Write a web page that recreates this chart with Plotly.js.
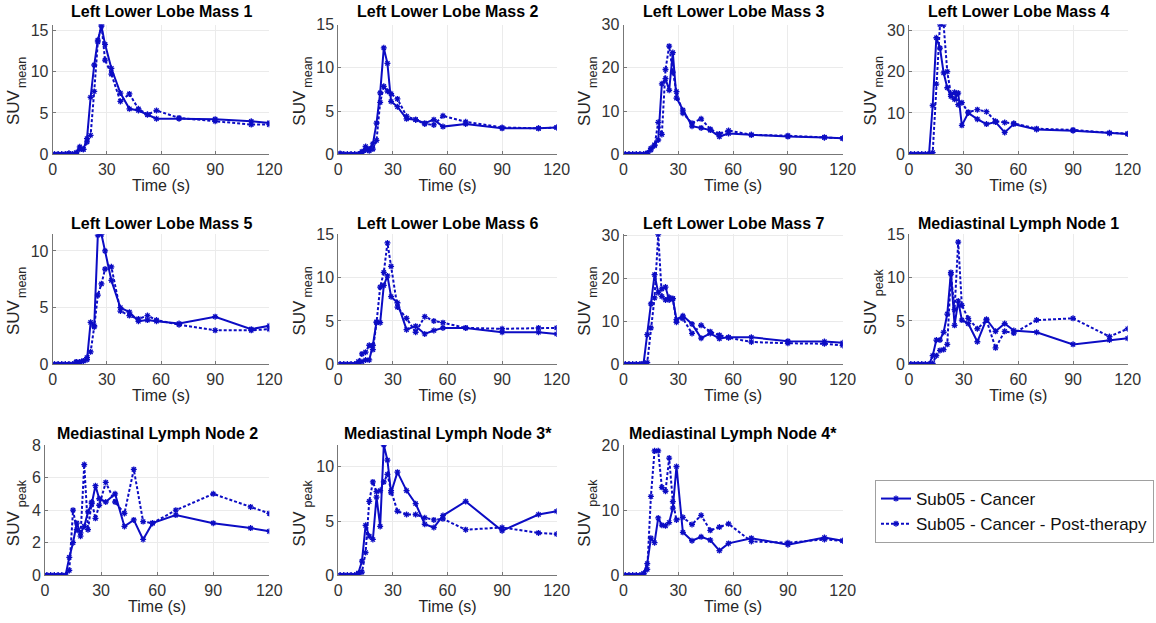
<!DOCTYPE html>
<html>
<head>
<meta charset="utf-8">
<script src="https://cdn.plot.ly/plotly-3.0.1.min.js"></script>
<style>html,body{margin:0;padding:0;background:#fff;}#chart{width:1156px;height:623px;}</style>
</head>
<body>
<div id="chart"></div>
<script>
// ---- data ----
const time = [1,3,5,7,9,11,13,15,17,19,21,23,25,27,29,32.5,37.5,42.5,47.5,52.5,57.5,70,90,110,120];

const panelTitles = ['Left Lower Lobe Mass 1','Left Lower Lobe Mass 2','Left Lower Lobe Mass 3','Left Lower Lobe Mass 4',
  'Left Lower Lobe Mass 5','Left Lower Lobe Mass 6','Left Lower Lobe Mass 7','Mediastinal Lymph Node 1',
  'Mediastinal Lymph Node 2','Mediastinal Lymph Node 3*','Mediastinal Lymph Node 4*'];
const yLabelMain = 'SUV';
const yLabelSubs = ['mean','mean','mean','mean','mean','mean','mean','peak','peak','peak','peak'];
const xLabel = 'Time (s)';
const seriesNames = ['Sub05 - Cancer','Sub05 - Cancer - Post-therapy'];
const xTicks = [0,30,60,90,120];

const mass1Cancer = [0,0,0,0,0.1,0,0.2,0.9,0.6,1.9,6.9,10.8,13.8,15.5,13.3,10.4,7.4,5.5,5.3,4.8,4.3,4.3,4.25,4.0,3.8];
const mass1Post   = [0,0,0,0,0.1,0,0.1,0.6,0.6,1.5,2.3,7.6,13.6,15.7,11.4,9.7,6.4,7.3,5.5,4.8,5.3,4.4,4.0,3.6,3.6];
const mass2Cancer = [0.1,0,0,0,0,0,0.3,0.9,0.6,1.2,3.6,7.1,12.3,10.5,6.1,5.5,4.1,4.0,3.6,4.0,3.2,3.5,3.0,3.0,3.1];
const mass2Post   = [0,0,0,0,0,0,0.2,0.5,0.4,0.6,1.6,6.0,7.85,7.3,7.0,6.4,4.4,4.0,3.5,3.4,4.45,3.75,3.1,3.0,3.1];
const mass3Cancer = [0,0,0,0,0,0,0.3,1.4,2.2,3.3,16.3,17.5,14.8,23.5,13.0,10.2,6.5,6.1,5.6,4.1,4.8,4.5,4.1,3.9,3.7];
const mass3Post   = [0,0,0,0,0,0,0.2,1.0,2.0,7.4,4.6,19.6,25.0,19.0,14.5,9.5,7.2,8.2,5.8,4.7,5.5,4.5,4.3,3.9,3.7];
const mass4Cancer = [0,0,0,0,0,0.1,11.8,28.2,25.7,19.7,16.1,14.0,13.3,14.8,7.0,10.0,8.5,7.3,7.8,5.3,7.3,6.0,5.7,5.1,4.9];
const mass4Post   = [0,0,0,0,0,0,0.4,17.0,31.4,31.4,20.0,14.5,15.0,12.0,12.5,10.2,10.8,10.3,8.0,7.7,7.5,6.2,5.9,5.2,5.0];
const mass5Cancer = [0,0,0,0,0,0,0.2,0.2,0.3,0.4,3.7,3.4,11.4,11.47,10.0,7.4,5.0,4.6,3.8,3.9,3.8,3.6,4.2,3.1,3.4];
const mass5Post   = [0,0,0,0,0,0,0.2,0.2,0.3,0.6,1.1,3.3,6.1,7.1,8.4,8.6,4.7,4.3,4.0,4.3,3.9,3.5,3.0,3.0,3.1];
const mass6Cancer = [0,0,0,0,0,0.1,0.3,0.5,0.5,2.2,4.9,4.8,9.1,10.2,7.8,7.1,4.0,4.4,3.5,3.9,4.2,4.2,3.7,3.7,3.5];
const mass6Post   = [0,0,0,0,0,0.3,1.2,1.4,2.2,1.7,4.8,8.9,10.6,14.0,11.3,6.6,5.3,3.7,5.5,5.0,4.8,4.2,4.1,4.2,4.2];
const mass7Cancer = [0,0,0,0,0,0.2,6.9,14.1,20.9,16.7,17.6,18.0,15.0,15.3,10.4,11.3,9.4,6.1,7.2,6.0,6.3,6.3,5.4,5.3,5.0];
const mass7Post   = [0,0,0,0,0,0.1,0.4,8.5,15.5,30.3,15.8,15.0,15.6,15.3,9.8,10.7,7.2,9.1,7.6,6.8,6.2,5.2,4.9,4.8,4.4];
const node1Cancer = [0,0,0,0,0,0,1.0,2.8,2.8,3.7,5.8,10.6,4.5,7.3,5.1,4.7,2.6,5.2,3.8,4.7,3.9,3.7,2.3,2.8,3.0];
const node1Post   = [0,0,0,0,0,0,0.1,1.0,1.6,1.7,2.3,10.4,6.3,14.1,6.8,5.3,4.1,5.1,1.9,3.8,3.6,5.1,5.3,3.2,4.1];
const node2Cancer = [0,0,0,0,0,0,1.1,2.0,3.2,2.6,3.0,3.9,4.4,5.5,4.7,4.5,5.0,3.0,3.4,2.2,3.2,3.7,3.2,2.9,2.7];
const node2Post   = [0,0,0,0,0,0,0.3,4.0,2.8,2.4,6.8,2.8,4.5,3.5,4.3,5.7,4.5,3.8,6.5,3.3,3.2,4.0,5.0,4.2,3.8];
const node3Cancer = [0,0,0,0,0,0.2,1.3,4.6,3.6,3.3,7.2,4.5,12.0,10.6,7.6,9.5,7.8,6.6,4.7,4.4,5.5,6.8,4.1,5.6,5.9];
const node3Post   = [0,0,0,0,0,0.1,0.3,2.1,6.8,8.6,7.7,7.8,8.6,9.3,7.8,5.9,5.6,5.6,5.3,5.1,5.2,4.2,4.4,3.9,3.8];
const node4Cancer = [0,0,0,0,0,0.3,1.8,5.7,5.0,8.8,7.7,7.6,8.1,10.3,16.7,6.6,5.3,5.9,5.4,3.8,4.9,5.7,4.7,5.8,5.3];
const node4Post   = [0,0,0,0,0,0.2,0.9,12.1,19.1,19.1,13.5,12.9,18.0,11.3,8.5,8.9,7.8,9.2,6.9,7.4,7.9,5.2,5.0,5.5,5.3];

const cancerSeries = [mass1Cancer,mass2Cancer,mass3Cancer,mass4Cancer,mass5Cancer,mass6Cancer,mass7Cancer,node1Cancer,node2Cancer,node3Cancer,node4Cancer];
const postSeries   = [mass1Post,mass2Post,mass3Post,mass4Post,mass5Post,mass6Post,mass7Post,node1Post,node2Post,node3Post,node4Post];
const yMax   = [15.7,15,30,31.4,11.47,15,30.3,15,8,12,20];
const yDtick = [5,5,10,10,5,5,10,5,2,5,10];

// ---- layout geometry (pixels) ----
const W = 1156, H = 623;
const cols = [[52.7,269.3],[338.3,556.7],[623.5,842.7],[909,1127.7]];
const rows = [[24.5,154.3],[234.3,364.3],[445,575.3]];
const titleY = [11.5,223.5,433];
const blue = 'rgb(12,12,196)';
const FONT = 'Liberation Sans, Arial, sans-serif';
const tickFont = {family:FONT, size:16, color:'#333'};

const traces = [];
const layout = {
  width: W, height: H, margin:{l:0,r:0,t:0,b:0},
  paper_bgcolor:'#fff', plot_bgcolor:'#fff',
  font:{family:FONT, size:15, color:'#262626'},
  showlegend:true,
  legend:{x:875/W, y:1-480/H, xanchor:'left', yanchor:'top', bgcolor:'#fff', bordercolor:'#a0a0a0', borderwidth:1,
    font:{family:FONT, size:17, color:'#111'}, itemwidth:30, tracegroupgap:0},
  annotations: []
};

function px(x){ return x/W; }
function py(y){ return 1-y/H; }

for (let i = 0; i < 11; i++) {
  const r = Math.floor(i/4), c = i%4;
  let xpx = cols[c].slice();
  if (r === 2 && c === 0) xpx = [45,269.3];
  const ypx = rows[r];
  const sfx = i === 0 ? '' : String(i+1);
  const common = {x: time, xaxis:'x'+sfx, yaxis:'y'+sfx, mode:'lines+markers', cliponaxis:true,
    marker:{symbol:'asterisk-open', size:5, color:blue, line:{color:blue, width:1.3}}};
  traces.push(Object.assign({}, common, {y: cancerSeries[i], name: seriesNames[0], legendgroup:'a', showlegend: i===0,
    line:{color:blue, width:2}}));
  traces.push(Object.assign({}, common, {y: postSeries[i], name: seriesNames[1], legendgroup:'b', showlegend: i===0,
    line:{color:blue, width:2, dash:'3px,2px'}}));

  layout['xaxis'+sfx] = {domain:[px(xpx[0]), px(xpx[1])], anchor:'y'+sfx, range:[0,120], tickvals:xTicks,
    showgrid:true, gridcolor:'#ebebeb', zeroline:false, showline:true, linecolor:'#777', linewidth:1,
    ticks:'inside', ticklen:3, tickcolor:'#777', tickfont:tickFont, fixedrange:true,
    title:{text:xLabel, standoff:3, font:{family:FONT, size:16, color:'#262626'}}};
  layout['yaxis'+sfx] = {domain:[py(ypx[1]), py(ypx[0])], anchor:'x'+sfx, range:[0,yMax[i]], dtick:yDtick[i], tick0:0,
    showgrid:true, gridcolor:'#ebebeb', zeroline:false, showline:true, linecolor:'#777', linewidth:1,
    ticks:'inside', ticklen:3, tickcolor:'#777', tickfont:tickFont, fixedrange:true};

  const cx = (xpx[0]+xpx[1])/2;
  const cy = (ypx[0]+ypx[1])/2;
  layout.annotations.push({text:panelTitles[i], xref:'paper', yref:'paper', x:px(cx), y:py(titleY[r]),
    xanchor:'center', yanchor:'middle', showarrow:false,
    font:{family:FONT, size:16, weight:'bold', color:'#000'}});
  // y-axis label "SUV" with a subscript, drawn as two rotated texts
  const lx = (r===2 && c===0) ? 13 : xpx[0]-39;
  layout.annotations.push({text:yLabelMain, xref:'paper', yref:'paper', x:px(lx), y:py(cy+18),
    xanchor:'center', yanchor:'middle', showarrow:false, textangle:-90,
    font:{family:FONT, size:17, color:'#262626'}});
  layout.annotations.push({text:yLabelSubs[i], xref:'paper', yref:'paper', x:px(lx+9), y:py(cy-17),
    xanchor:'center', yanchor:'middle', showarrow:false, textangle:-90,
    font:{family:FONT, size:12.5, color:'#262626'}});
}

Plotly.newPlot('chart', traces, layout, {staticPlot:true, displayModeBar:false});
</script>
</body>
</html>
